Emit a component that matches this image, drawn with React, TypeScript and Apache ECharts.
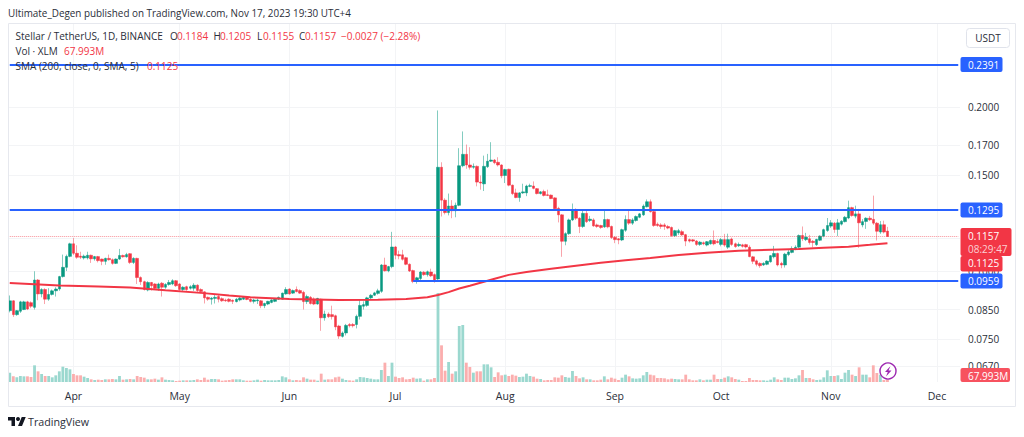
import React, { useEffect, useRef } from "react";
import * as echarts from "echarts";

const opens = [
  .0846,.0882,.0832,.0844,.0850,.0878,.0875,.0858,.0963,.0908,
  .0925,.0888,.0906,.0920,.0927,.0977,.1016,.1064,.1122,.1078,
  .1065,.1057,.1057,.1069,.1053,.1063,.1052,.1042,.1055,.1049,
  .1033,.1052,.1068,.1062,.1076,.1037,.1055,.0973,.0956,.0923,
  .0953,.0947,.0930,.0950,.0934,.0945,.0947,.0960,.0947,.0925,
  .0936,.0930,.0930,.0942,.0925,.0916,.0895,.0888,.0891,.0898,
  .0890,.0885,.0888,.0884,.0879,.0885,.0888,.0895,.0888,.0880,
  .0882,.0882,.0864,.0870,.0876,.0880,.0888,.0888,.0908,.0927,
  .0911,.0925,.0921,.0914,.0879,.0895,.0888,.0870,.0888,.0821,
  .0834,.0832,.0828,.0793,.0759,.0770,.0798,.0798,.0798,.0826,
  .0862,.0865,.0893,.0903,.0910,.0918,.1026,.1001,.1019,.1107,
  .1072,.1071,.1058,.1029,.1002,.0957,.0969,.0995,.0985,.0996,
  .0985,.0967,.1550,.1349,.1280,.1316,.1290,.1320,.1560,.1637,
  .1565,.1550,.1556,.1456,.1445,.1554,.1590,.1598,.1583,.1565,
  .1497,.1537,.1437,.1391,.1364,.1391,.1391,.1430,.1432,.1416,
  .1387,.1399,.1380,.1378,.1362,.1303,.1268,.1134,.1171,.1241,
  .1297,.1250,.1207,.1276,.1238,.1241,.1215,.1212,.1205,.1243,
  .1207,.1153,.1146,.1140,.1188,.1243,.1224,.1238,.1255,.1268,
  .1312,.1340,.1285,.1219,.1215,.1215,.1207,.1202,.1161,.1175,
  .1181,.1166,.1142,.1141,.1135,.1119,.1127,.1116,.1122,.1138,
  .1133,.1119,.1142,.1106,.1145,.1122,.1113,.1117,.1118,.1106,
  .1062,.1044,.1033,.1026,.1029,.1040,.1062,.1077,.1033,.1026,
  .1072,.1082,.1098,.1106,.1162,.1142,.1146,.1134,.1118,.1139,
  .1159,.1187,.1209,.1224,.1192,.1219,.1232,.1251,.1307,.1261,
  .1273,.1215,.1233,.1250,.1244,.1224,.1179,.1216,.1184,
];
const closes = [
  .0882,.0832,.0846,.0878,.0878,.0852,.0862,.0963,.0908,.0925,
  .0888,.0906,.0920,.0927,.0977,.1016,.1064,.1122,.1078,.1060,
  .1060,.1065,.1069,.1053,.1063,.1045,.1042,.1055,.1049,.1033,
  .1052,.1068,.1062,.1072,.1037,.1055,.0973,.0956,.0925,.0953,
  .0940,.0930,.0947,.0934,.0945,.0953,.0960,.0940,.0925,.0934,
  .0925,.0936,.0942,.0921,.0917,.0893,.0888,.0892,.0895,.0888,
  .0882,.0882,.0880,.0880,.0888,.0892,.0895,.0887,.0880,.0885,
  .0885,.0864,.0872,.0880,.0885,.0888,.0895,.0911,.0925,.0908,
  .0921,.0917,.0911,.0879,.0898,.0872,.0870,.0891,.0821,.0834,
  .0825,.0825,.0790,.0760,.0770,.0795,.0794,.0794,.0826,.0865,
  .0868,.0893,.0903,.0912,.0920,.1026,.1001,.1019,.1107,.1069,
  .1066,.1051,.1029,.1000,.0957,.0972,.0996,.0985,.0997,.0980,
  .0957,.1550,.1349,.1280,.1316,.1290,.1320,.1560,.1637,.1565,
  .1550,.1556,.1456,.1450,.1556,.1590,.1598,.1580,.1565,.1495,
  .1535,.1437,.1387,.1364,.1391,.1397,.1432,.1434,.1418,.1387,
  .1397,.1376,.1376,.1358,.1301,.1268,.1134,.1171,.1241,.1294,
  .1250,.1207,.1276,.1232,.1245,.1210,.1207,.1202,.1243,.1205,
  .1152,.1142,.1140,.1191,.1243,.1224,.1241,.1259,.1273,.1316,
  .1340,.1285,.1212,.1212,.1207,.1207,.1199,.1161,.1186,.1186,
  .1165,.1135,.1135,.1135,.1119,.1130,.1122,.1132,.1138,.1122,
  .1128,.1142,.1116,.1142,.1119,.1109,.1119,.1110,.1107,.1063,
  .1042,.1029,.1023,.1033,.1043,.1067,.1077,.1026,.1026,.1074,
  .1084,.1100,.1106,.1162,.1146,.1154,.1128,.1128,.1143,.1159,
  .1191,.1212,.1226,.1192,.1226,.1234,.1255,.1307,.1264,.1273,
  .1226,.1232,.1250,.1242,.1224,.1183,.1216,.1179,.1157,
];
const lows = [
  .0840,.0824,.0828,.0838,.0848,.0848,.0855,.0850,.0884,.0895,
  .0870,.0882,.0902,.0898,.0920,.0973,.1000,.1060,.1070,.1053,
  .1052,.1050,.1050,.1035,.1045,.1037,.1025,.1027,.1045,.1027,
  .1030,.1048,.1058,.1058,.1030,.1030,.0947,.0943,.0921,.0918,
  .0921,.0925,.0920,.0898,.0928,.0940,.0942,.0935,.0920,.0918,
  .0920,.0925,.0920,.0915,.0910,.0872,.0882,.0868,.0872,.0876,
  .0878,.0878,.0876,.0870,.0876,.0880,.0885,.0884,.0876,.0872,
  .0870,.0855,.0855,.0866,.0873,.0877,.0885,.0886,.0905,.0905,
  .0908,.0914,.0908,.0850,.0870,.0868,.0866,.0868,.0777,.0811,
  .0820,.0815,.0779,.0751,.0755,.0762,.0788,.0788,.0785,.0815,
  .0850,.0860,.0888,.0900,.0905,.0912,.0998,.0995,.1012,.1051,
  .1051,.1045,.1025,.0996,.0950,.0948,.0962,.0980,.0977,.0975,
  .0952,.0955,.1259,.1270,.1265,.1250,.1255,.1315,.1550,.1540,
  .1535,.1540,.1430,.1410,.1402,.1545,.1585,.1570,.1555,.1480,
  .1450,.1430,.1378,.1360,.1340,.1385,.1372,.1425,.1412,.1382,
  .1382,.1370,.1372,.1355,.1295,.1228,.1062,.1115,.1165,.1235,
  .1241,.1174,.1200,.1225,.1230,.1205,.1200,.1195,.1200,.1198,
  .1145,.1125,.1120,.1135,.1180,.1215,.1215,.1232,.1250,.1262,
  .1308,.1280,.1205,.1205,.1195,.1190,.1193,.1155,.1155,.1165,
  .1160,.1111,.1128,.1130,.1112,.1112,.1115,.1110,.1118,.1115,
  .1124,.1110,.1108,.1098,.1112,.1103,.1107,.1104,.1100,.1060,
  .1030,.1020,.1014,.1022,.1025,.1036,.1055,.1020,.1012,.1015,
  .1065,.1078,.1092,.1095,.1135,.1135,.1118,.1105,.1112,.1135,
  .1153,.1180,.1200,.1175,.1159,.1212,.1228,.1245,.1258,.1250,
  .1103,.1203,.1195,.1235,.1215,.1138,.1170,.1172,.1155,
];
const highs = [
  .0902,.0884,.0848,.0882,.0882,.0882,.0880,.0999,.0967,.0930,
  .0930,.0930,.0925,.0934,.0980,.1072,.1072,.1127,.1150,.1115,
  .1085,.1072,.1085,.1072,.1066,.1066,.1054,.1058,.1072,.1055,
  .1055,.1098,.1072,.1080,.1078,.1060,.1058,.0978,.0960,.0958,
  .0955,.0950,.0952,.0955,.0950,.0963,.0966,.0963,.0950,.0938,
  .0940,.0942,.0950,.0946,.0930,.0918,.0898,.0896,.0905,.0905,
  .0895,.0890,.0892,.0887,.0892,.0898,.0900,.0900,.0892,.0890,
  .0890,.0885,.0875,.0882,.0888,.0891,.0898,.0913,.0934,.0930,
  .0925,.0937,.0926,.0920,.0905,.0900,.0895,.0893,.0890,.0846,
  .0840,.0864,.0832,.0797,.0775,.0800,.0803,.0803,.0832,.0885,
  .0880,.0897,.0908,.0916,.0928,.1030,.1058,.1022,.1180,.1112,
  .1090,.1094,.1062,.1033,.1006,.0976,.1000,.1000,.1002,.1010,
  .0990,.1970,.1583,.1360,.1387,.1349,.1335,.1680,.1803,.1706,
  .1687,.1575,.1562,.1497,.1628,.1640,.1723,.1605,.1617,.1570,
  .1540,.1541,.1441,.1416,.1395,.1446,.1440,.1446,.1460,.1420,
  .1402,.1410,.1410,.1382,.1366,.1312,.1272,.1178,.1248,.1330,
  .1303,.1255,.1294,.1294,.1262,.1250,.1222,.1216,.1289,.1248,
  .1212,.1158,.1150,.1196,.1265,.1298,.1250,.1265,.1278,.1325,
  .1353,.1353,.1300,.1228,.1224,.1224,.1215,.1207,.1190,.1195,
  .1190,.1170,.1147,.1145,.1140,.1135,.1133,.1135,.1142,.1187,
  .1145,.1150,.1170,.1171,.1152,.1128,.1128,.1122,.1122,.1115,
  .1066,.1050,.1038,.1038,.1047,.1070,.1112,.1081,.1040,.1080,
  .1095,.1110,.1115,.1167,.1207,.1175,.1165,.1140,.1146,.1163,
  .1196,.1251,.1240,.1230,.1246,.1240,.1262,.1346,.1312,.1318,
  .1300,.1245,.1255,.1262,.1375,.1230,.1235,.1237,.1205,
];
const volumes = [
  252,153,126,162,153,153,135,450,288,216,
  162,162,126,180,288,414,378,342,216,180,
  180,144,108,72,54,63,54,72,72,81,
  72,162,63,72,81,72,162,135,117,72,
  72,90,63,126,63,54,45,27,36,45,
  45,45,54,72,54,117,63,81,81,72,
  36,45,54,72,72,72,45,36,36,45,
  63,36,54,45,45,45,54,153,126,72,
  45,54,45,126,90,63,63,36,225,63,
  72,72,126,144,90,54,45,36,72,135,
  126,108,90,72,72,324,522,162,522,144,
  108,126,72,81,117,90,99,36,72,72,
  108,2403,990,306,540,225,288,1512,1539,522,
  405,252,288,288,477,477,396,135,261,180,
  198,162,198,171,135,144,225,162,144,90,
  81,45,54,54,126,117,180,135,117,297,
  162,99,126,72,72,45,45,63,153,72,
  117,90,54,117,198,153,99,90,99,180,
  270,198,180,108,108,99,72,90,81,72,
  72,198,72,45,45,72,45,63,63,198,
  81,81,117,153,126,81,63,27,27,108,
  54,54,45,45,36,63,126,72,54,117,
  117,81,99,180,324,108,108,72,54,63,
  126,315,162,162,180,81,252,324,198,162,
  396,198,198,126,450,243,198,54,68,
];
const smaDays = [0,14,25,34,44,54,62,68,79,86,93,104,112,118,121,124,127,130,133,137,141,146,153,160,167,174,181,189,197,206,215,223,230,237,243,248];
const smaValues = [.0951,.0941,.0937,.0933,.0922,.0912,.0902,.0895,.0889,.0887,.0885,.0886,.0889,.0895,.0904,.0915,.0929,.0940,.0952,.0968,.0984,.0996,.1010,.1023,.1036,.1047,.1057,.1070,.1080,.1089,.1094,.1098,.1103,.1108,.1117,.1125];
const levelLines = [.2391,.1295];
const supportLevel = .0959;
const supportStartDay = 114;
const lastPrice = .1157;
const priceTicks = [.2,.17,.15,.13,.115,.1,.085,.075,.067];
const hiddenTicks = [.13,.115];
const monthStarts = ["2023-04-01","2023-05-01","2023-06-01","2023-07-01","2023-08-01","2023-09-01","2023-10-01","2023-11-01","2023-12-01"];
const monthNames = ["Apr","May","Jun","Jul","Aug","Sep","Oct","Nov","Dec"];
const CATEGORY_COUNT = 269;
const categories: string[] = [];
for (let i = 0; i < CATEGORY_COUNT; i++) {
  categories.push(new Date(Date.UTC(2023, 2, 14 + i)).toISOString().slice(0, 10));
}

const UP = "#089981";
const DOWN = "#f23645";
const UP_WICK = "rgba(8,153,129,0.5)";
const DOWN_WICK = "rgba(242,54,69,0.45)";
const UP_VOL = "#9bd8cf";
const DOWN_VOL = "#fbaeae";
const BLUE = "#2962ff";
const INK = "#2a2e39";
const FONT = "'Open Sans', sans-serif";
const GRID = "#f3f4f6";

echarts.graphic.registerShape(
  "tvmark",
  echarts.graphic.extendPath("M14 22H7V11H0V4h14v18zM28 22h-8l7.5-18h8L28 22z", {})
);

function label(text: string, x: number, y: number, fill: string, fontSize = 10, extra: any = {}) {
  return { type: "text", x, y, z: 100, silent: true, style: { text, fill, fontFamily: FONT, fontSize, textVerticalAlign: "middle", textBaseline: "middle", ...extra } };
}
function box(x: number, y: number, width: number, height: number, fill: string, r = 2) {
  return { type: "rect", z: 99, silent: true, shape: { x, y, width, height, r }, style: { fill } };
}
const span = (v: number, style?: any) => [
  { coord: [categories[0], v], ...(style ? { lineStyle: style } : {}) },
  { coord: [categories[CATEGORY_COUNT - 1], v] },
];

export default function App() {
  const ref = useRef<HTMLDivElement>(null);
  useEffect(() => {
    const chart = echarts.init(ref.current!, undefined, { renderer: "svg" });
    const monthSet = new Set(monthStarts);
    const isMonth = (_: number, v: string) => monthSet.has(v);
    chart.setOption({
      animation: false,
      backgroundColor: "#ffffff",
      grid: [
        { left: 8, right: 64, top: 23, bottom: 55 },
        { left: 8, right: 64, top: 23, bottom: 55 },
      ],
      xAxis: [
        {
          type: "category", gridIndex: 0, data: categories, boundaryGap: true,
          axisLine: { show: false }, axisTick: { show: false, alignWithLabel: true },
          axisLabel: { interval: isMonth, margin: 8, color: INK, fontFamily: FONT, fontSize: 10.5,
            formatter: (v: string) => monthNames[monthStarts.indexOf(v)] ?? "" },
          splitLine: { show: true, interval: isMonth, alignWithLabel: true, lineStyle: { color: GRID, width: 1 } },
        },
        { type: "category", gridIndex: 1, data: categories, boundaryGap: true, show: false },
      ],
      yAxis: [
        {
          type: "log", gridIndex: 0, position: "right", min: .0626, max: .2850, logBase: 10,
          axisLine: { show: false },
          axisTick: { show: false, customValues: priceTicks },
          axisLabel: {
            customValues: priceTicks.filter((t) => !hiddenTicks.includes(t)),
            margin: 8, color: INK, fontFamily: FONT, fontSize: 10,
            formatter: (v: number) => Number(v).toFixed(4),
          },
          splitLine: { show: true, lineStyle: { color: GRID, width: 1 } },
          minorSplitLine: { show: false },
        },
        { type: "value", gridIndex: 1, min: 0, max: 9693, show: false, splitLine: { show: false } },
      ],
      series: [
        {
          name: "Vol", type: "bar", xAxisIndex: 1, yAxisIndex: 1, barWidth: "80%", z: 1,
          data: volumes.map((v, i) => ({ value: v, itemStyle: { color: closes[i] >= opens[i] ? UP_VOL : DOWN_VOL } })),
        },
        {
          name: "Wicks", type: "candlestick", xAxisIndex: 0, yAxisIndex: 0, barWidth: 0.4, z: 2,
          itemStyle: { color: UP_WICK, color0: DOWN_WICK, borderColor: UP_WICK, borderColor0: DOWN_WICK, borderWidth: 1 },
          data: opens.map((o, i) => [o, closes[i], lows[i], highs[i]]),
        },
        {
          name: "XLMUSDT", type: "candlestick", xAxisIndex: 0, yAxisIndex: 0, barWidth: 3, z: 3,
          itemStyle: { color: UP, color0: DOWN, borderColor: UP, borderColor0: DOWN, borderWidth: 0.5 },
          data: opens.map((o, i) => [o, closes[i], Math.min(o, closes[i]), Math.max(o, closes[i])]),
        },
        {
          name: "SMA", type: "line", xAxisIndex: 0, yAxisIndex: 0, z: 5, showSymbol: false, symbol: "none", smooth: false,
          lineStyle: { color: "#f23645", width: 2 },
          data: smaDays.map((d, i) => [categories[d], smaValues[i]]),
          markLine: {
            silent: true, symbol: "none", z: 6, animation: false, label: { show: false },
            lineStyle: { color: BLUE, width: 2, type: "solid" },
            data: [
              span(lastPrice, { color: "#f23645", type: "dotted", width: 1, opacity: 0.55 }),
              ...levelLines.map((v) => span(v)),
              [{ coord: [categories[supportStartDay], supportLevel] }, { coord: [categories[CATEGORY_COUNT - 1], supportLevel] }],
            ],
          },
        },
      ],
      graphic: [
        { type: "rect", z: 90, silent: true, shape: { x: 8.5, y: 23.5, width: 1007, height: 383 }, style: { fill: "none", stroke: "#e6e8ee", lineWidth: 1 } },
        label("Ultimate_Degen published on TradingView.com, Nov 17, 2023 19:30 UTC+4", 8, 13, INK, 9.9),
        label("Stellar / TetherUS, 1D, BINANCE", 15.5, 36, INK),
        label("O", 170, 36, INK), label("0.1184", 177, 36, DOWN),
        label("H", 213.5, 36, INK), label("0.1205", 220, 36, DOWN),
        label("L", 257, 36, INK), label("0.1155", 263, 36, DOWN),
        label("C", 299, 36, INK), label("0.1157", 305, 36, DOWN),
        label("\u22120.0027 (\u22122.28%)", 341, 36, DOWN),
        label("Vol \u00b7 XLM", 15.5, 51, INK), label("67.993M", 64, 51, DOWN),
        label("SMA (200, close, 0, SMA, 5)", 15.5, 66, INK), label("0.1125", 147, 66, DOWN),
        { type: "rect", z: 99, silent: true, shape: { x: 966.5, y: 28.5, width: 43, height: 19, r: 3 }, style: { fill: "#fff", stroke: "#e0e3eb" } },
        label("USDT", 988, 38, INK, 10, { textAlign: "center", align: "center" }),
        box(960.5, 57, 42, 15, BLUE), label("0.2391", 968, 64.5, "#fff", 10),
        box(960.5, 202.5, 42, 15, BLUE), label("0.1295", 968, 210, "#fff", 10),
        box(960.5, 228, 51, 28, DOWN), label("0.1157", 968, 236, "#fff", 10), label("08:29:47", 968, 249, "#fbd0d3", 10),
        box(960.5, 256, 42, 15.5, DOWN), label("0.1125", 968, 263, "#fff", 10),
        box(960.5, 273.5, 42, 15, BLUE), label("0.0959", 968, 281, "#fff", 10),
        box(960.5, 368, 49.5, 14, "#f7525f"), label("67.993M", 968, 375.5, "#fff", 10),
        { type: "circle", z: 98, silent: true, shape: { cx: 888, cy: 371, r: 8 }, style: { fill: "#fff", stroke: "#9c27b0", lineWidth: 1.4 } },
        { type: "polygon", z: 99, silent: true, shape: { points: [[890.5, 366], [885, 372], [887.8, 372], [886, 376.5], [891.5, 370.5], [888.5, 370.5]] }, style: { fill: "#9c27b0" } },
        { type: "tvmark", z: 99, silent: true, x: 8, y: 415, scaleX: 0.5, scaleY: 0.5, style: { fill: "#131722" } },
        { type: "circle", z: 99, silent: true, shape: { cx: 18, cy: 419, r: 2 }, style: { fill: "#131722" } },
        label("TradingView", 28, 422, "#2a2e39", 10.7),
      ],
    });
    return () => chart.dispose();
  }, []);
  return <div ref={ref} style={{ position: "absolute", left: 0, top: 0, width: 1024, height: 437 }} />;
}
